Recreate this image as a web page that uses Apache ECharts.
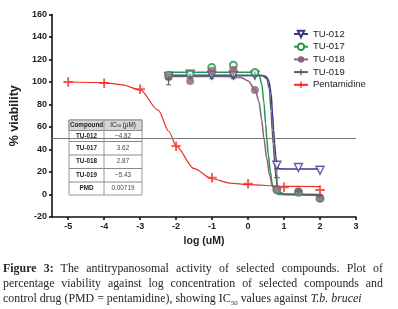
<!DOCTYPE html>
<html>
<head>
<meta charset="utf-8">
<script src="https://cdn.jsdelivr.net/npm/echarts@6/dist/echarts.min.js"></script>
<style>
  html, body { margin: 0; padding: 0; background: #fff; }
  #wrap { position: relative; width: 398px; height: 309px; overflow: hidden; }
  #chart { position: absolute; left: 0; top: 0; width: 398px; height: 309px; }
  #caption {
    position: absolute; left: 3px; top: 261px; width: 380px;
    font-family: "Liberation Serif", "DejaVu Serif", serif;
    font-size: 11.9px; line-height: 15px; color: #2a2526;
    text-align: justify;
  }
  #caption b { color: #2a2526; }
  #caption sub { font-size: 7px; line-height: 0; }
</style>
</head>
<body>
<div id="wrap">
  <div id="chart"></div>
  <div id="caption"><b>Figure 3:</b> The antitrypanosomal activity of selected compounds. Plot of percentage viability against log concentration of selected compounds and control drug (PMD = pentamidine), showing IC<sub>50</sub> values against <i>T.b. brucei</i></div>
</div>
<script>
// log concentration of the test compounds (4-fold dilutions)
var doseLog = [-2.21, -1.61, -1.01, -0.41, 0.19, 0.80, 1.40, 2.00];
var tu012 = [105, 107, 106, 106, 106, 26, 24, 21.5];
var tu017 = [106, 107, 113, 115, 108.5, 4, 2, -3.5];
var tu018 = [104.5, 101, 110, 111, 93, 5, 3, -3];
var tu019 = [102.5, 105, 105, 105, 106, 15, 3, -1];
var tu019Err = [5, 2, 2, 2, 1, 8, 1, 1];

// pentamidine control
var pmdLog = [-5, -4, -3, -2, -1, 0, 1, 2];
var pmdVals = [100, 99, 93.5, 43, 15, 9.5, 6.5, 4];

// fitted curves as [log, %]
var fit012 = [[-2.22, 106], [0.35, 106], [0.5, 105], [0.58, 101], [0.64, 90], [0.68, 72], [0.71, 57], [0.74, 45], [0.77, 34], [0.8, 26], [0.85, 23], [0.95, 22.7], [2.0, 22.7]];
var fit017 = [[-2.22, 108.6], [0.22, 108.6], [0.31, 106], [0.38, 98], [0.44, 82], [0.49, 62], [0.52, 50], [0.56, 36], [0.62, 20], [0.68, 8], [0.76, 2], [0.86, 0], [2.0, -0.5]];
var fit018 = [[-2.22, 105], [-0.6, 105], [-0.2, 104], [0, 101], [0.2, 93], [0.3, 83], [0.38, 66], [0.44, 50], [0.52, 32], [0.6, 17], [0.68, 7], [0.78, 2], [1.0, 0], [2.0, -1]];
var fit019 = [[-2.22, 105.5], [0.4, 105.5], [0.52, 103], [0.59, 94], [0.64, 74], [0.67, 57], [0.7, 45], [0.74, 28], [0.78, 14], [0.83, 5], [0.9, 1.5], [1.05, 0.5], [2.0, 0]];
var fitPmd = [[-5, 100], [-4, 99.5], [-3.5, 97.5], [-3, 93], [-2.5, 75], [-2.2, 56], [-2, 43], [-1.5, 23], [-1, 14], [-0.5, 10.2], [0, 8.7], [1, 7.3], [2, 7]];

var names = ['TU-012', 'TU-017', 'TU-018', 'TU-019', 'Pentamidine'];
var xTicks = [-5, -4, -3, -2, -1, 0, 1, 2, 3];

var tableHead = ['Compound', 'IC{s|50} (µM)'];
var tableRows = [['TU-012', '~4.82'], ['TU-017', '3.62'], ['TU-018', '2.87'], ['TU-019', '~5.43'], ['PMD', '0.00719']];

var colors = ['#41348f', '#1f9a4a', '#8c6079', '#4f6266', '#ee3124'];
var plusPath = 'path://M4,0H6V4H10V6H6V10H4V6H0V4H4Z';
var downTri = 'path://M0,0L10,0L5,9Z';

function pairs(xs, ys) {
    var out = [];
    for (var i = 0; i < xs.length; i++) {
        out.push([xs[i], ys[i]]);
    }
    return out;
}

var marks = [
    {sym: downTri, size: 8, fill: '#fff', bw: 1.4},
    {sym: 'emptyCircle', size: 7, fill: null, bw: 1.6},
    {sym: 'circle', size: 8, fill: null, bw: 0},
    {sym: plusPath, size: 6, fill: null, bw: 0},
    {sym: plusPath, size: 9.5, fill: null, bw: 0}
];
var fits = [fit012, fit017, fit018, fit019, fitPmd];
var pts = [pairs(doseLog, tu012), pairs(doseLog, tu017), pairs(doseLog, tu018), pairs(doseLog, tu019), pairs(pmdLog, pmdVals)];

var series = [];
for (var i = 0; i < names.length; i++) {
    var m = marks[i];
    var itemStyle = {color: m.fill || colors[i], borderColor: colors[i], borderWidth: m.bw};
    series.push({
        name: names[i],
        type: 'line',
        data: fits[i],
        smooth: 0.3,
        smoothMonotone: 'x',
        showSymbol: false,
        symbol: m.sym,
        symbolSize: m.size,
        itemStyle: itemStyle,
        lineStyle: {color: colors[i], width: i === 4 ? 1.2 : 1.5},
        z: 3,
        silent: true
    });
    series.push({
        name: names[i],
        type: 'scatter',
        data: pts[i],
        symbol: m.sym,
        symbolSize: m.size,
        itemStyle: itemStyle,
        z: 4
    });
}
// error bars of TU-019
var errData = [];
for (var e = 0; e < doseLog.length; e++) {
    errData.push([doseLog[e], tu019[e] - tu019Err[e], tu019[e] + tu019Err[e]]);
}
series.push({
    name: 'TU-019',
    type: 'custom',
    data: errData,
    z: 3,
    silent: true,
    renderItem: function (params, api) {
        var lo = api.coord([api.value(0), api.value(1)]);
        var hi = api.coord([api.value(0), api.value(2)]);
        var w = 2.5;
        var st = {stroke: colors[3], lineWidth: 1};
        return {
            type: 'group',
            children: [
                {type: 'line', shape: {x1: lo[0], y1: lo[1], x2: hi[0], y2: hi[1]}, style: st},
                {type: 'line', shape: {x1: lo[0] - w, y1: lo[1], x2: lo[0] + w, y2: lo[1]}, style: st},
                {type: 'line', shape: {x1: hi[0] - w, y1: hi[1], x2: hi[0] + w, y2: hi[1]}, style: st}
            ]
        };
    }
});
// 50 % reference line
series[0].markLine = {
    silent: true,
    symbol: 'none',
    label: {show: false},
    lineStyle: {color: '#777', width: 1, type: 'solid'},
    data: [{yAxis: 50}]
};

// IC50 inset table
var tx0 = 69, tx1 = 104, tx2 = 142;
var ty = [120, 130.5, 141.5, 155, 168.5, 182, 195];
var tbl = [];
tbl.push({type: 'rect', shape: {x: tx0, y: ty[0], width: tx2 - tx0, height: ty[6] - ty[0]},
    style: {fill: '#fff', stroke: '#9a9a9a', lineWidth: 1}});
tbl.push({type: 'rect', shape: {x: tx0, y: ty[0], width: tx2 - tx0, height: ty[1] - ty[0]},
    style: {fill: '#d6d6d6', stroke: '#8a8a8a', lineWidth: 1}});
tbl.push({type: 'line', shape: {x1: tx1, y1: ty[0], x2: tx1, y2: ty[6]}, style: {stroke: '#9a9a9a', lineWidth: 1}});
for (var r = 2; r < 6; r++) {
    tbl.push({type: 'line', shape: {x1: tx0, y1: ty[r], x2: tx2, y2: ty[r]}, style: {stroke: '#8a8a8a', lineWidth: 1}});
}
tbl.push({type: 'text', x: (tx0 + tx1) / 2, y: (ty[0] + ty[1]) / 2,
    style: {text: tableHead[0], fill: '#222', font: 'bold 6.3px "Liberation Sans", Arial', align: 'center', verticalAlign: 'middle'}});
tbl.push({type: 'text', x: (tx1 + tx2) / 2, y: (ty[0] + ty[1]) / 2,
    style: {text: tableHead[1], fill: '#222', font: '6.3px "Liberation Sans", Arial', align: 'center', verticalAlign: 'middle',
        rich: {s: {fontSize: 4, verticalAlign: 'bottom', fill: '#222'}}}});
for (var k = 0; k < tableRows.length; k++) {
    var cy = (ty[k + 1] + ty[k + 2]) / 2;
    tbl.push({type: 'text', x: (tx0 + tx1) / 2, y: cy,
        style: {text: tableRows[k][0], fill: '#222', font: 'bold 6.3px "Liberation Sans", Arial', align: 'center', verticalAlign: 'middle'}});
    tbl.push({type: 'text', x: (tx1 + tx2) / 2, y: cy,
        style: {text: tableRows[k][1], fill: '#444', font: '6.3px "Liberation Sans", Arial', align: 'center', verticalAlign: 'middle'}});
}

var axisFont = {fontFamily: '"Liberation Sans", Arial', fontWeight: 'bold', fontSize: 9, color: '#222'};

var option = {
    animation: false,
    backgroundColor: '#fff',
    grid: {left: 52, right: 42, top: 14.5, bottom: 92, containLabel: false},
    legend: {
        data: names,
        orient: 'vertical',
        left: 293,
        top: 28.5,
        padding: 0,
        itemWidth: 14,
        itemHeight: 8,
        itemGap: 1.7,
        textStyle: {fontFamily: '"Liberation Sans", Arial', fontSize: 9.5, color: '#222', lineHeight: 11},
        selectedMode: false
    },
    xAxis: {
        type: 'value',
        min: -5.45,
        max: 3,
        name: 'log (uM)',
        nameLocation: 'middle',
        nameGap: 17,
        nameTextStyle: {fontFamily: '"Liberation Sans", Arial', fontWeight: 'bold', fontSize: 10.5, color: '#222'},
        axisLine: {onZero: false, lineStyle: {color: '#111', width: 1.6}},
        axisTick: {show: true, length: 3, inside: false, lineStyle: {width: 1.6, color: '#111'}, customValues: xTicks},
        axisLabel: Object.assign({margin: 5, customValues: xTicks}, axisFont),
        splitLine: {show: false}
    },
    yAxis: {
        type: 'value',
        min: -20,
        max: 160,
        interval: 20,
        name: '% viability',
        nameLocation: 'middle',
        nameGap: 22,
        nameTextStyle: {fontFamily: '"Liberation Sans", Arial', fontWeight: 'bold', fontSize: 12.5, color: '#222'},
        axisLine: {show: true, onZero: false, lineStyle: {color: '#111', width: 1.6}},
        axisTick: {show: true, length: 3, lineStyle: {width: 1.6, color: '#111'}},
        axisLabel: Object.assign({margin: 5}, axisFont),
        splitLine: {show: false}
    },
    graphic: [{type: 'group', z: 100, children: tbl}],
    series: series
};

var myChart = echarts.init(document.getElementById('chart'));
myChart.setOption(option);
</script>
</body>
</html>
